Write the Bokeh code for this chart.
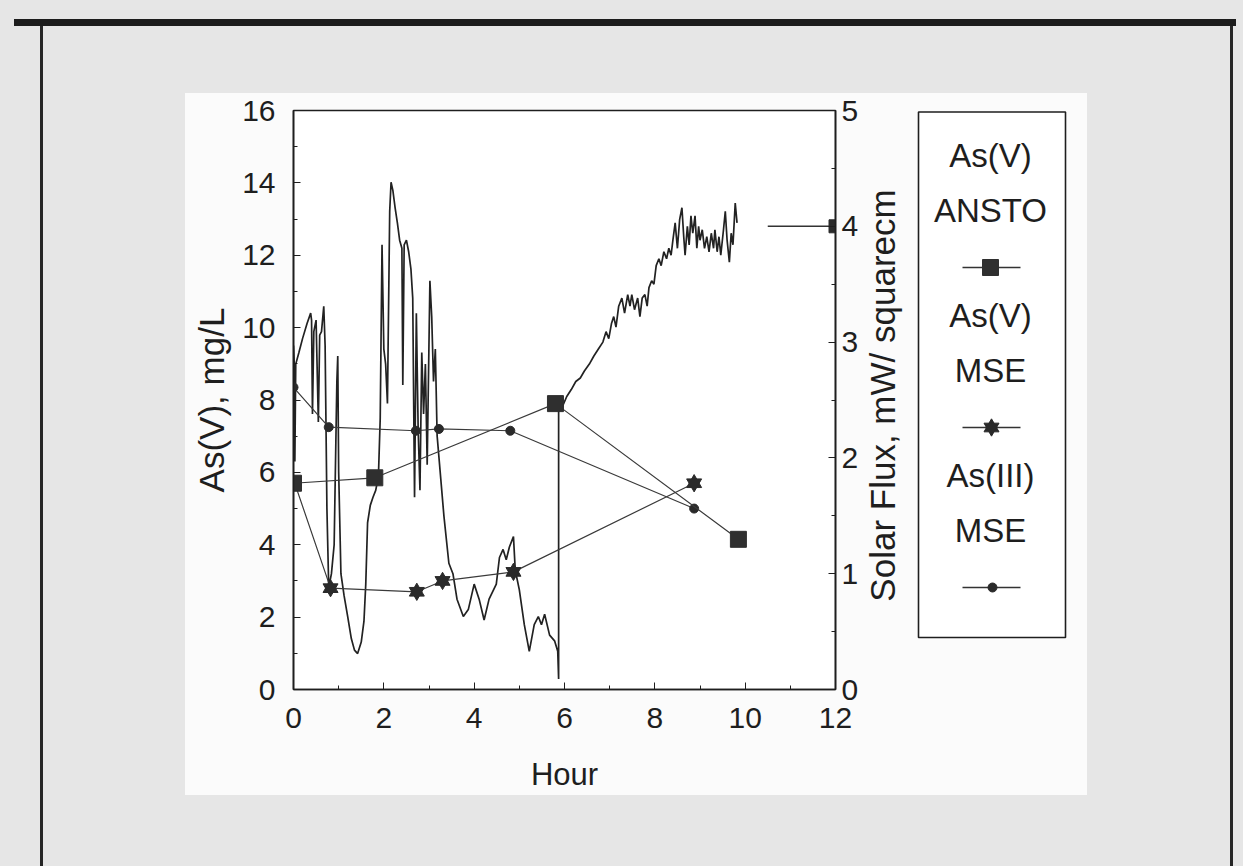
import math
from bokeh.plotting import figure
from bokeh.layouts import row
from bokeh.models import Range1d, LinearAxis, FixedTicker
from bokeh.embed import file_html
from bokeh.resources import INLINE

# ---------------- data ----------------
hour_ticks = [0, 2, 4, 6, 8, 10, 12]
conc_ticks = [0, 2, 4, 6, 8, 10, 12, 14, 16]
flux_ticks = [0, 1, 2, 3, 4, 5]

# As(V) ANSTO (mg/L)
ansto_hour = [0.0, 1.8, 5.8, 9.85]
ansto_as5 = [5.7, 5.85, 7.9, 4.15]

# As(V) MSE (mg/L)
mse5_hour = [0.0, 0.82, 2.73, 3.3, 4.87, 8.87]
mse5_as5 = [5.8, 2.8, 2.7, 3.0, 3.25, 5.7]

# As(III) MSE (mg/L)
mse3_hour = [0.0, 0.78, 2.71, 3.22, 4.8, 8.87]
mse3_as3 = [8.35, 7.25, 7.15, 7.2, 7.15, 5.0]

# Solar flux (mW / cm^2), right axis
solar_hour = [
    0.00, 0.02, 0.03, 0.05, 0.12, 0.20, 0.30, 0.38, 0.40, 0.42, 0.45, 0.50, 0.55, 0.58,
    0.62, 0.67, 0.70, 0.74, 0.78, 0.84, 0.90, 0.96, 0.98, 1.00, 1.05, 1.12, 1.20, 1.28,
    1.35, 1.42, 1.50, 1.56, 1.60, 1.64, 1.70, 1.76, 1.82, 1.88, 1.92, 1.96, 2.00, 2.04,
    2.08, 2.13, 2.16, 2.20, 2.25, 2.30, 2.35, 2.40, 2.42, 2.45, 2.50, 2.55, 2.60, 2.64,
    2.68, 2.72, 2.76, 2.80, 2.84, 2.88, 2.92, 2.96, 3.02, 3.06, 3.10, 3.14, 3.18, 3.33,
    3.44, 3.53, 3.62, 3.76, 3.87, 4.00, 4.11, 4.22, 4.33, 4.49, 4.56, 4.64, 4.71, 4.78,
    4.87, 4.91, 5.00, 5.11, 5.22, 5.33, 5.42, 5.49, 5.56, 5.67, 5.78, 5.85, 5.87, 5.87,
    5.95, 6.05, 6.15, 6.25, 6.35, 6.44, 6.55, 6.65, 6.75, 6.85, 6.92, 6.98, 7.04, 7.09,
    7.14, 7.20, 7.27, 7.33, 7.40, 7.45, 7.49, 7.55, 7.62, 7.67, 7.72, 7.78, 7.83, 7.87,
    7.93, 7.98, 8.03, 8.09, 8.14, 8.20, 8.26, 8.31, 8.36, 8.40, 8.45, 8.50, 8.55, 8.60,
    8.64, 8.67, 8.72, 8.76, 8.80, 8.84, 8.89, 8.93, 8.97, 9.00, 9.05, 9.10, 9.15, 9.20,
    9.25, 9.30, 9.33, 9.38, 9.42, 9.46, 9.52, 9.56, 9.60, 9.65, 9.69, 9.73, 9.78, 9.82,
]
solar_flux = [
    2.97, 2.78, 1.97, 2.81, 2.91, 3.03, 3.16, 3.25, 3.19, 2.38, 3.09, 3.19, 2.31, 3.06,
    3.09, 3.31, 2.97, 1.56, 0.88, 1.00, 1.25, 2.66, 2.88, 1.88, 1.00, 0.81, 0.63, 0.44,
    0.34, 0.31, 0.41, 0.59, 0.91, 1.44, 1.59, 1.66, 1.72, 1.84, 2.34, 3.84, 2.94, 2.81,
    2.47, 4.13, 4.38, 4.31, 4.16, 4.03, 3.88, 3.81, 2.63, 3.84, 3.88, 3.78, 3.63, 3.38,
    1.66, 3.25, 2.25, 1.72, 2.91, 2.38, 2.81, 1.94, 3.53, 3.22, 2.66, 2.94, 2.19, 1.50,
    1.09, 1.00, 0.78, 0.63, 0.69, 0.91, 0.78, 0.60, 0.78, 0.91, 1.14, 1.21, 1.12, 1.23,
    1.32, 1.03, 0.86, 0.56, 0.33, 0.56, 0.63, 0.56, 0.65, 0.47, 0.42, 0.33, 0.09, 2.41,
    2.44, 2.53, 2.59, 2.66, 2.69, 2.75, 2.81, 2.88, 2.94, 3.00, 3.09, 3.03, 3.16, 3.22,
    3.13, 3.31, 3.38, 3.25, 3.41, 3.31, 3.41, 3.28, 3.38, 3.22, 3.38, 3.41, 3.31, 3.47,
    3.53, 3.50, 3.66, 3.72, 3.66, 3.78, 3.72, 3.81, 3.75, 3.88, 4.03, 3.81, 4.06, 4.16,
    3.91, 3.75, 4.00, 3.84, 4.09, 3.94, 4.09, 3.81, 4.00, 3.88, 3.97, 3.81, 3.91, 3.78,
    3.94, 3.81, 3.97, 3.78, 3.91, 3.75, 3.97, 4.13, 3.88, 3.69, 3.94, 3.84, 4.20, 4.03,
]

# stray key segment at the right edge of the plot
stub_hour = [10.5, 12.0]
stub_flux = [4.0, 4.0]

legend_titles = ["As(V)", "As(V)", "As(III)"]
legend_sources = ["ANSTO", "MSE", "MSE"]

# ---------------- styling ----------------
INK = "#1e1e1e"
FONT = "Liberation Sans"

W, H = 1243, 866
SPLIT = 862                      # main figure | key figure
FL, FR, FT, FB = 293, 835, 110, 689

page_bg = ", ".join([
    "linear-gradient(#1c1c1c,#1c1c1c) 14px 19px / 1222px 7px no-repeat",
    "linear-gradient(#262626,#262626) 40px 22px / 3px 844px no-repeat",
    "linear-gradient(#262626,#262626) 1230px 22px / 3px 844px no-repeat",
    "linear-gradient(#fbfbfb,#fbfbfb) 185px 93px / 902px 702px no-repeat",
    "#e6e6e6",
])

p = figure(width=SPLIT, height=H, output_backend="svg", toolbar_location=None,
           x_range=Range1d(0, 12), y_range=Range1d(0, 16),
           min_border_left=FL, min_border_right=SPLIT - FR,
           min_border_top=FT, min_border_bottom=H - FB,
           background_fill_color="white", border_fill_color=None,
           outline_line_color=INK, outline_line_width=1.6)
p.grid.visible = False
p.extra_y_ranges = {"flux": Range1d(0, 5)}


def style_axis(ax):
    ax.axis_line_color = INK
    ax.axis_line_width = 1.6
    ax.major_tick_in = 7
    ax.major_tick_out = 0
    ax.minor_tick_in = 4
    ax.minor_tick_out = 0
    ax.major_tick_line_color = INK
    ax.minor_tick_line_color = INK
    ax.major_label_text_font = FONT
    ax.major_label_text_font_size = "30px"
    ax.major_label_text_color = INK
    ax.axis_label_text_font = FONT
    ax.axis_label_text_font_style = "normal"
    ax.axis_label_text_color = INK


xa = p.xaxis[0]
xa.ticker = FixedTicker(ticks=hour_ticks, minor_ticks=[1, 3, 5, 7, 9, 11])
style_axis(xa)
xa.major_label_standoff = 18
xa.axis_label = "Hour"
xa.axis_label_text_font_size = "31px"
xa.axis_label_standoff = 26

ya = p.yaxis[0]
ya.ticker = FixedTicker(ticks=conc_ticks, minor_ticks=[1, 3, 5, 7, 9, 11, 13, 15])
style_axis(ya)
ya.major_label_standoff = 18
ya.axis_label = "As(V), mg/L"
ya.axis_label_text_font_size = "35px"
ya.axis_label_standoff = 8

ra = LinearAxis(y_range_name="flux",
                ticker=FixedTicker(ticks=flux_ticks, minor_ticks=[0.5, 1.5, 2.5, 3.5, 4.5]))
style_axis(ra)
ra.major_label_standoff = 6
p.add_layout(ra, "right")

# ---------------- data glyphs ----------------
p.line(solar_hour, solar_flux, y_range_name="flux", line_color="#222222", line_width=1.7)
p.line(stub_hour, stub_flux, y_range_name="flux", line_color="#333333", line_width=1.4)
p.scatter(stub_hour[-1:], stub_flux[-1:], y_range_name="flux", marker="square",
          size=13, color="#2a2a2a")

p.line(mse3_hour, mse3_as3, line_color="#3a3a3a", line_width=1.2)
p.scatter(mse3_hour, mse3_as3, marker="circle", size=9, color="#2a2a2a")

p.line(mse5_hour, mse5_as5, line_color="#3a3a3a", line_width=1.2)
p.scatter(mse5_hour[1:], mse5_as5[1:], marker="triangle", size=15, color="#2a2a2a")
p.scatter(mse5_hour[1:], mse5_as5[1:], marker="inverted_triangle", size=15, color="#2a2a2a")

p.line(ansto_hour, ansto_as5, line_color="#3a3a3a", line_width=1.2)
p.scatter(ansto_hour, ansto_as5, marker="square", size=16, color="#2f2f2f")

# ---------------- key panel: pixel-space figure to the right ----------------
# (its frame is aligned with the main frame vertically by the row layout)
k = figure(width=W - SPLIT, height=H, output_backend="svg", toolbar_location=None,
           x_range=Range1d(SPLIT, W), y_range=Range1d(FB, FT),
           x_axis_location=None, y_axis_location=None,
           min_border_left=0, min_border_right=0,
           min_border_top=FT, min_border_bottom=H - FB,
           background_fill_color=None, border_fill_color=None, outline_line_color=None)
k.grid.visible = False

# secondary axis title
k.text(x=[882], y=[395], text=["Solar Flux, mW/ squarecm"], angle=math.pi / 2,
       text_align="center", text_baseline="middle", text_font_size="35px",
       text_color=INK, text_font={"value": FONT})

# key box
k.quad(left=[918], right=[1065], top=[FT + 1.5], bottom=[637],
       fill_color="white", line_color=INK, line_width=1.6)

cx = 990
row_h = 160
t_y = [155 + i * row_h for i in range(3)]
k.text(x=[cx] * 3, y=t_y, text=legend_titles, text_align="center", text_baseline="middle",
       text_font_size="33px", text_color=INK, text_font={"value": FONT})
k.text(x=[cx] * 3, y=[v + 55 for v in t_y], text=legend_sources, text_align="center",
       text_baseline="middle", text_font_size="33px", text_color=INK,
       text_font={"value": FONT})
sym_y = [v + 112 for v in t_y]
k.segment(x0=[cx - 28] * 3, x1=[cx + 30] * 3, y0=sym_y, y1=sym_y,
          line_color="#333333", line_width=1.5)
k.scatter([cx], [sym_y[0]], marker="square", size=16, color="#2f2f2f")
k.scatter([cx + 1], [sym_y[1]], marker="triangle", size=15, color="#2a2a2a")
k.scatter([cx + 1], [sym_y[1]], marker="inverted_triangle", size=15, color="#2a2a2a")
k.scatter([cx + 2], [sym_y[2]], marker="circle", size=9, color="#2a2a2a")

layout = row(p, k, styles={"background": page_bg})
open("out.html", "w").write(file_html(layout, INLINE))
